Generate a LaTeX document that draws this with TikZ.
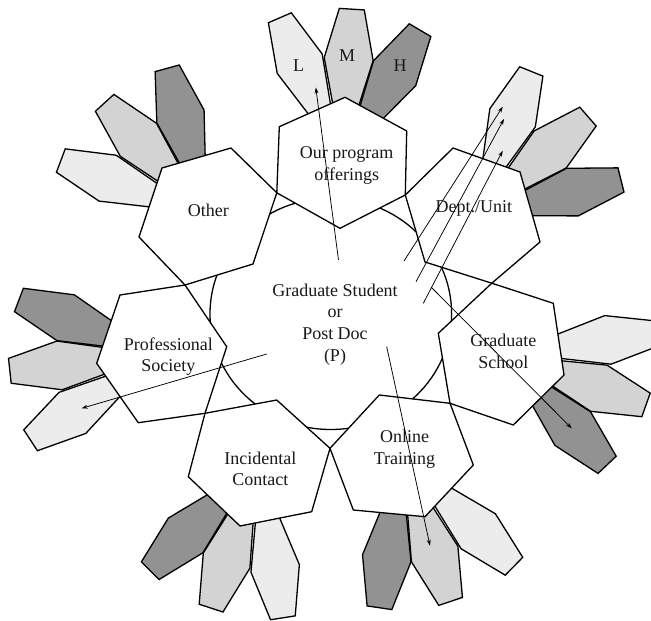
\documentclass[tikz,border=0pt]{standalone}
\usepackage{fontspec}
\setmainfont{Liberation Serif}
\usetikzlibrary{arrows.meta}
\definecolor{pL}{RGB}{235,236,235}
\definecolor{pM}{RGB}{211,211,211}
\definecolor{pH}{RGB}{146,146,146}
\begin{document}
\begin{tikzpicture}[x=1pt,y=-1pt,
  outl/.style={draw=black, line width=1.3pt, line join=miter},
  hexa/.style={outl, fill=white},
  petal/.style={outl},
  lbl/.style={anchor=base, inner sep=0pt, font=\fontsize{18}{21.7}\selectfont, text=black!90},
  arr/.style={line width=0.75pt, -{Stealth[length=6pt,width=4pt]}}]
\useasboundingbox (0,0) rectangle (651,621);
% central circle
\draw[outl, fill=white] (330.8,313.8) ellipse [x radius=120.8, y radius=115.7];
% petal fans (center x / center y / axis angle)
\foreach \cx/\cy/\a in {342.2/161.85/86.4, 472.5/217.0/41, 501.8/353.85/-19.5, 401.8/456.4/-71.4, 258.6/462.7/-108.1, 161.95/354.3/186.2, 207.8/215.8/132.4}{
  \begin{scope}[shift={(\cx,\cy)}]
    \draw[petal, fill=pH, rotate=\a-27] (53,-12) -- (103,-24.5) -- (153,-12.5) -- (153,12.5) -- (103,24.5) -- (53,12) -- cycle;
    \draw[petal, fill=pM, rotate=\a] (53,-12) -- (103,-24.5) -- (153,-12.5) -- (153,12.5) -- (103,24.5) -- (53,12) -- cycle;
    \draw[petal, fill=pL, rotate=\a+27] (57,-12) -- (107,-24.5) -- (157,-12.5) -- (157,12.5) -- (107,24.5) -- (57,12) -- cycle;
  \end{scope}
}
% hexagons
\draw[hexa] (345,97.3) -- (406.7,131) -- (405.3,195) -- (340,228.3) -- (276.8,192.8) -- (279.3,126.7) -- cycle;
\draw[hexa] (453,148) -- (520,172) -- (540,242) -- (491.8,283.2) -- (425,262) -- (405.3,195) -- cycle;
\draw[hexa] (491.8,283.2) -- (553.3,303.3) -- (564,375) -- (513.3,425) -- (450,403.3) -- (438.3,333.3) -- cycle;
\draw[hexa] (379.3,395) -- (450,403.3) -- (473.3,465) -- (425,516.7) -- (353.3,510) -- (330,448.3) -- cycle;
\draw[hexa] (205,413.3) -- (276.7,400) -- (330,448.3) -- (311.7,511.7) -- (240,526) -- (188.3,476.7) -- cycle;
\draw[hexa] (120,295) -- (185,285) -- (226.7,346.7) -- (205,413.3) -- (138.3,422.7) -- (96.7,363.3) -- cycle;
\draw[hexa] (162,168) -- (231,148) -- (276.8,192.8) -- (253,264) -- (185,285) -- (139,237) -- cycle;
% labels
\node[lbl] (center) at (335,296) {\begin{tabular}[t]{@{}c@{}}Graduate Student\\or\\Post Doc\\(P)\end{tabular}};
\node[lbl] (prog) at (346.7,158.3) {\begin{tabular}[t]{@{}c@{}}Our program\\offerings\end{tabular}};
\node[lbl] (dept) at (473.8,212.3) {Dept./Unit};
\node[lbl] (grad) at (503.3,346.7) {\begin{tabular}[t]{@{}c@{}}Graduate\\School\end{tabular}};
\node[lbl] (online) at (404.5,442.7) {\begin{tabular}[t]{@{}c@{}}Online\\Training\end{tabular}};
\node[lbl] (incid) at (260.3,464) {\begin{tabular}[t]{@{}c@{}}Incidental\\Contact\end{tabular}};
\node[lbl] (prof) at (168.3,350) {\begin{tabular}[t]{@{}c@{}}Professional\\Society\end{tabular}};
\node[lbl] (other) at (208.3,216.7) {Other};
\node[lbl] (lL) at (298.7,71) {L};
\node[lbl] (lM) at (347,61) {M};
\node[lbl] (lH) at (400,71) {H};
% arrows
\coordinate (s1) at (338.5,260);   \coordinate (e1) at (315.8,87.5);
\coordinate (s2) at (404,261);     \coordinate (e2) at (502.7,106.7);
\coordinate (s3) at (416,281.7);   \coordinate (e3) at (504,119);
\coordinate (s4) at (423.3,303.3); \coordinate (e4) at (502.7,150.7);
\coordinate (s5) at (431,287);     \coordinate (e5) at (571.7,428.3);
\coordinate (s6) at (386.7,346.7); \coordinate (e6) at (430,545.7);
\coordinate (s7) at (266.7,354);   \coordinate (e7) at (81.7,408.3);
\foreach \i in {1,...,7}{\draw[arr] (s\i) -- (e\i);}
\end{tikzpicture}
\end{document}
